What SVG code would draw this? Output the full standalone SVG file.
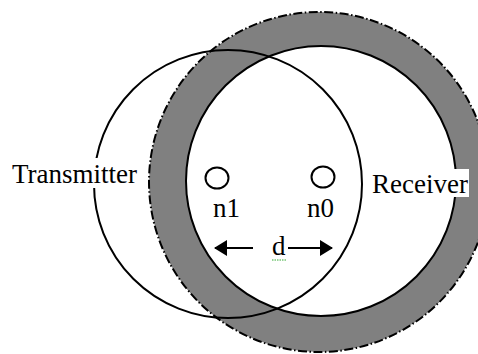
<svg xmlns="http://www.w3.org/2000/svg" width="478" height="354" viewBox="0 0 478 354">
<style>
.ln{fill:none;stroke:#000;stroke-width:2}
.lbl{font-family:"Liberation Serif","Times New Roman","DejaVu Serif",serif;font-size:27px;fill:#000}
.bg{fill:#fff}
.arr{stroke:#000;stroke-width:2.2}
</style>
<defs>
<marker id="ah" viewBox="0 0 13 16" refX="12" refY="8" markerWidth="13" markerHeight="16" markerUnits="userSpaceOnUse" orient="auto">
<path d="M0,0 L13,8 L0,16 z" fill="#000"/>
</marker>
</defs>
<rect width="478" height="354" fill="#fff"/>
<g id="receiver-range">
<circle cx="319" cy="182" r="170" fill="#808080" stroke="#000" stroke-width="2" stroke-dasharray="9,2.5,1.5,2.5"/>
<circle cx="321" cy="181" r="135" fill="#fff" stroke="#000" stroke-width="2"/>
</g>
<g id="transmitter-range">
<circle cx="228" cy="184" r="134" class="ln"/>
</g>
<g id="n1">
<ellipse cx="217" cy="178" rx="11.5" ry="10.5" class="ln"/>
<text x="213" y="217" class="lbl">n1</text>
</g>
<g id="n0">
<ellipse cx="323" cy="177" rx="11.5" ry="10.5" class="ln"/>
<text x="307" y="217" class="lbl">n0</text>
</g>
<g id="transmitter-label">
<rect x="10" y="158" width="130" height="30" class="bg"/>
<text x="12" y="183" class="lbl">Transmitter</text>
</g>
<g id="receiver-label">
<rect x="369" y="169" width="100" height="28" class="bg"/>
<text x="372" y="193" class="lbl">Receiver</text>
</g>
<g id="connectors">
<line x1="253" y1="248" x2="215" y2="248" class="arr" marker-end="url(#ah)"/>
<line x1="288" y1="248" x2="332" y2="248" class="arr" marker-end="url(#ah)"/>
<text x="272" y="255" class="lbl">d</text>
<line x1="272" y1="260" x2="287" y2="260" stroke="#3a3" stroke-width="1" stroke-dasharray="1.5,1"/>
</g>
</svg>
